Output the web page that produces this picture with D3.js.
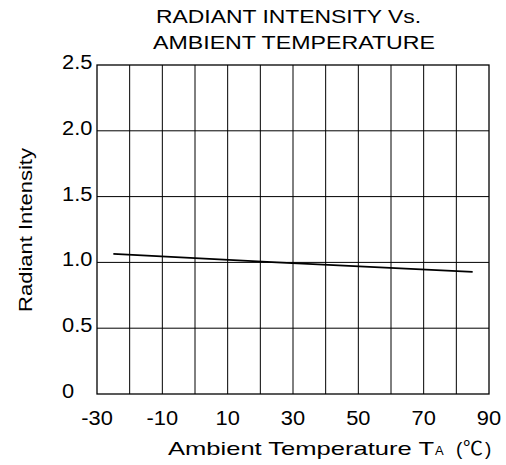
<!DOCTYPE html>
<html>
<head>
<meta charset="utf-8">
<script src="https://cdn.jsdelivr.net/npm/d3@7"></script>
<style>
  body { margin: 0; background: #fff; }
  text { font-family: "Liberation Sans", Arial, sans-serif; fill: #000; }
</style>
</head>
<body>
<div id="chart"></div>
<script>
// chart values
var temps = [-25, 25, 85];
var intensity = [1.065, 1.0, 0.928];
var xTickLabels = [-30, -10, 10, 30, 50, 70, 90];
var yTickLabels = [0, 0.5, 1.0, 1.5, 2.0, 2.5];

var W = 506, H = 465;
var margin = { top: 65, right: 17, bottom: 71, left: 97 };
var width = W - margin.left - margin.right,
    height = H - margin.top - margin.bottom;

var svg = d3.select("#chart").append("svg")
    .attr("width", W)
    .attr("height", H);

var g = svg.append("g")
    .attr("transform", "translate(" + margin.left + "," + margin.top + ")");

var x = d3.scaleLinear().domain([-30, 90]).range([0, width]);
var y = d3.scaleLinear().domain([0, 2.5]).range([height, 0]);

// the source picture is a bit wider than tall, so stretch the text the same way
function widen(sel) {
    sel.each(function() {
        var w = this.getComputedTextLength();
        d3.select(this).attr("textLength", w * 1.12).attr("lengthAdjust", "spacingAndGlyphs");
    });
}

// vertical grid every 10 degrees
g.selectAll(".vgrid").data(d3.range(-20, 90, 10))
    .enter().append("line")
    .attr("x1", function(d) { return x(d); })
    .attr("x2", function(d) { return x(d); })
    .attr("y1", 0).attr("y2", height)
    .attr("stroke", "#000").attr("stroke-width", 1);

// horizontal grid
g.selectAll(".hgrid").data([0.5, 1.0, 1.5, 2.0])
    .enter().append("line")
    .attr("x1", 0).attr("x2", width)
    .attr("y1", function(d) { return y(d); })
    .attr("y2", function(d) { return y(d); })
    .attr("stroke", "#000").attr("stroke-width", 1);

// frame
g.append("rect")
    .attr("width", width).attr("height", height)
    .attr("fill", "none").attr("stroke", "#000").attr("stroke-width", 1.3);

// curve
var pts = temps.map(function(t, i) { return [t, intensity[i]]; });
g.append("path")
    .datum(pts)
    .attr("fill", "none")
    .attr("stroke", "#000")
    .attr("stroke-width", 1.7)
    .attr("d", d3.line()
        .x(function(d) { return x(d[0]); })
        .y(function(d) { return y(d[1]); }));

// tick labels
g.selectAll(".xl").data(xTickLabels)
    .enter().append("text")
    .attr("x", function(d) { return x(d); })
    .attr("y", height + 31)
    .attr("text-anchor", "middle")
    .style("font-size", "19.5px")
    .text(function(d) { return d; })
    .call(widen);

g.selectAll(".yl").data(yTickLabels)
    .enter().append("text")
    .attr("x", -35)
    .attr("y", function(d) { return y(d) + 4; })
    .attr("text-anchor", "start")
    .style("font-size", "19.5px")
    .text(function(d) { return d === 0 ? "0" : d.toFixed(1); })
    .call(widen);

// titles
svg.append("text")
    .attr("x", 156).attr("y", 23)
    .attr("textLength", 265).attr("lengthAdjust", "spacingAndGlyphs")
    .style("font-size", "19px")
    .text("RADIANT INTENSITY Vs.");
svg.append("text")
    .attr("x", 153).attr("y", 49)
    .attr("textLength", 282).attr("lengthAdjust", "spacingAndGlyphs")
    .style("font-size", "19px")
    .text("AMBIENT TEMPERATURE");

// x axis title, pieces placed one by one
svg.append("text")
    .attr("x", 168).attr("y", 455)
    .attr("textLength", 266).attr("lengthAdjust", "spacingAndGlyphs")
    .style("font-size", "19px")
    .text("Ambient Temperature T");
svg.append("text")
    .attr("x", 435).attr("y", 455)
    .style("font-size", "13px")
    .text("A");
svg.append("text")
    .attr("x", 456).attr("y", 455)
    .style("font-size", "19px")
    .text("(");
svg.append("text")
    .attr("x", 463).attr("y", 455)
    .attr("textLength", 20).attr("lengthAdjust", "spacingAndGlyphs")
    .style("font-family", "'Noto Sans CJK SC'")
    .style("font-size", "19px")
    .text("\u2103");
svg.append("text")
    .attr("x", 485).attr("y", 455)
    .style("font-size", "19px")
    .text(")");

svg.append("text")
    .attr("transform", "translate(32,312) rotate(-90)")
    .attr("textLength", 164).attr("lengthAdjust", "spacingAndGlyphs")
    .style("font-size", "19px")
    .text("Radiant Intensity");
</script>
</body>
</html>
